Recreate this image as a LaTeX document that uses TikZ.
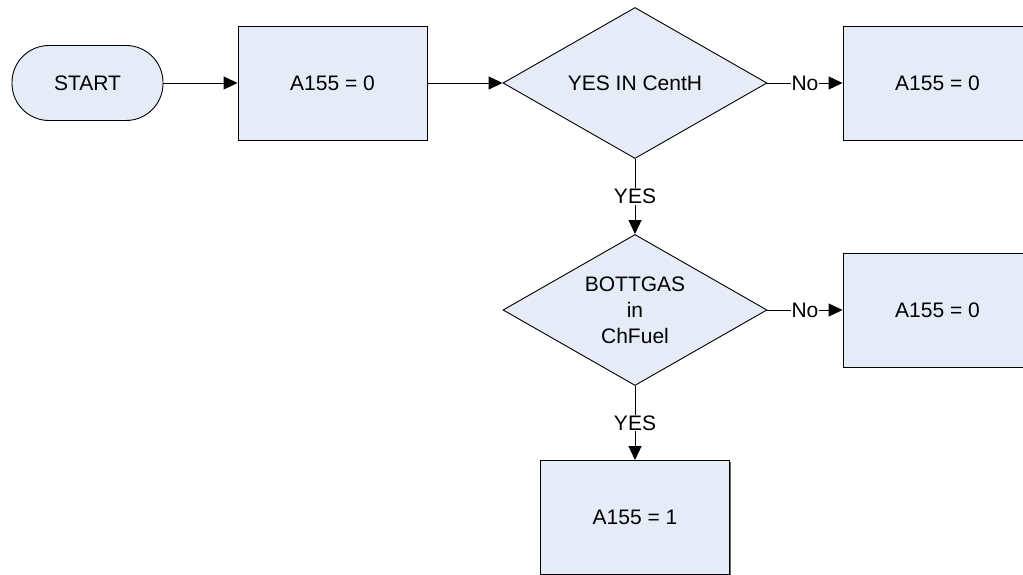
\documentclass[tikz,border=0pt]{standalone}
\usepackage{fontspec}
\setmainfont{Liberation Sans}
\usetikzlibrary{shapes.geometric,arrows.meta,shadows}
\definecolor{boxfill}{RGB}{230,236,247}
\begin{document}
\begin{tikzpicture}[x=1pt,y=-1pt,
  every node/.style={font=\fontsize{21}{26}\selectfont},
  shade/.style={drop shadow={shadow xshift=1.3pt,shadow yshift=-1.3pt,fill=black!60,opacity=1}},
  procbox/.style={draw=black,line width=0.9pt,fill=boxfill,minimum width=189pt,minimum height=114pt,inner sep=0pt,shade},
  decbox/.style={draw=black,line width=0.9pt,fill=boxfill,diamond,aspect=1.748,minimum width=264pt,minimum height=151pt,inner sep=0pt,align=center},
  termbox/.style={draw=black,line width=0.9pt,fill=boxfill,rounded corners=37pt,minimum width=151pt,minimum height=75pt,inner sep=0pt},
  conn/.style={draw=black,line width=0.9pt,-{Triangle[length=14pt,width=13pt]}},
  lbl/.style={fill=white,inner sep=1pt}]
\clip (0,0) rectangle (1023,575);
\fill[white] (0,0) rectangle (1023,575);
\node[termbox] (start) at (87.5,83) {START};
\node[procbox] (b1) at (332.5,83) {A155 = 0};
\node[decbox] (d1) at (635,83) {YES IN CentH};
\node[procbox] (r1) at (937.5,83) {A155 = 0};
\node[decbox] (d2) at (635,310) {BOTTGAS\\in\\ChFuel};
\node[procbox] (r2) at (937.5,310) {A155 = 0};
\node[procbox] (b3) at (635,517.5) {A155 = 1};
\draw[conn] (start.east) -- (b1.west);
\draw[conn] (b1.east) -- (d1.west);
\draw[conn] (d1.east) -- node[lbl] {No} (r1.west);
\draw[conn] (d1.south) -- node[lbl] {YES} (d2.north);
\draw[conn] (d2.east) -- node[lbl] {No} (r2.west);
\draw[conn] (d2.south) -- node[lbl] {YES} (b3.north);
\end{tikzpicture}
\end{document}
